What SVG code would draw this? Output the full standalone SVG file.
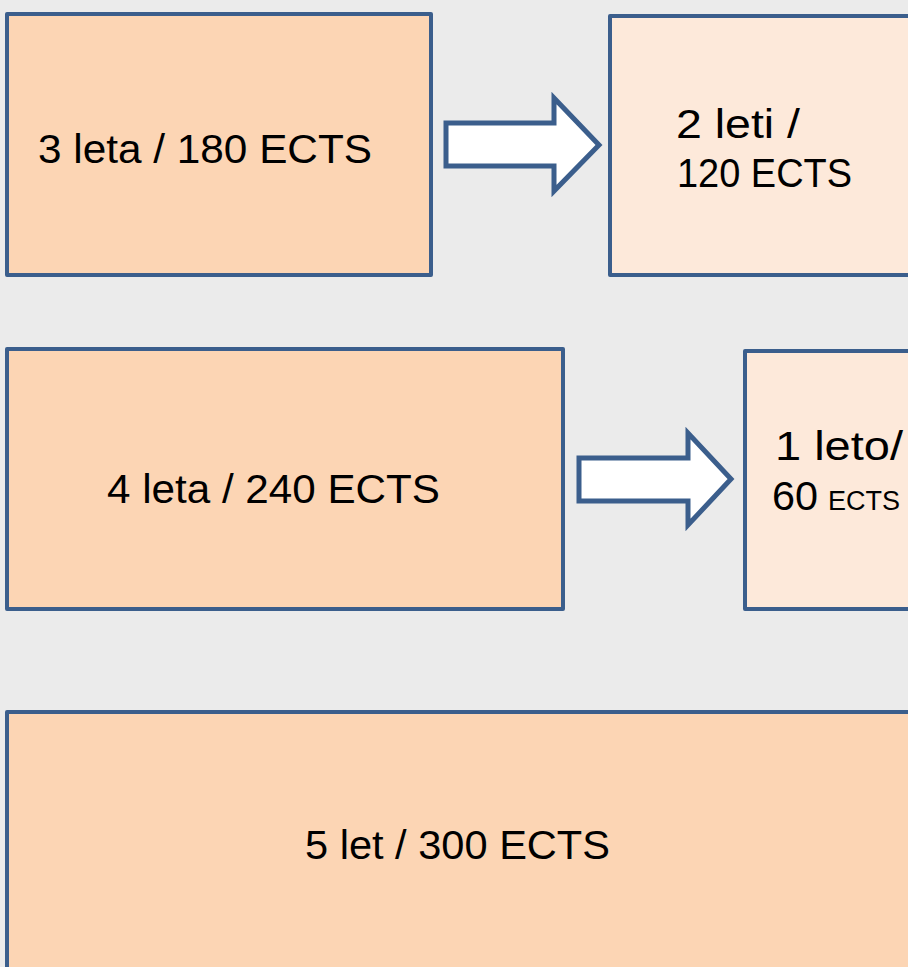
<svg xmlns="http://www.w3.org/2000/svg" width="908" height="967" viewBox="0 0 908 967">
<style>
.box{stroke:#3B5E8C;stroke-width:4;stroke-linejoin:round}
.dark{fill:#FCD5B4}
.light{fill:#FDE9DA}
.arrow{fill:#FFFFFF;stroke:#3B5E8C;stroke-width:5}
text{font-family:"Liberation Sans","DejaVu Sans",sans-serif;fill:#000;font-size:40px}
</style>
<rect width="908" height="967" fill="#EBEBEB"/>
<g id="node1"><rect class="box dark" x="7" y="14" width="424" height="261"/><text x="38" y="163" textLength="334" lengthAdjust="spacingAndGlyphs">3 leta / 180 ECTS</text></g>
<g id="node2"><rect class="box light" x="610" y="16" width="310" height="259"/><text x="676" y="138" textLength="124" lengthAdjust="spacingAndGlyphs">2 leti /</text><text x="677" y="187" textLength="175" lengthAdjust="spacingAndGlyphs">120 ECTS</text></g>
<g id="node3"><rect class="box dark" x="7" y="349" width="556" height="260"/><text x="107" y="503" textLength="333" lengthAdjust="spacingAndGlyphs">4 leta / 240 ECTS</text></g>
<g id="node4"><rect class="box light" x="745" y="351" width="175" height="258"/><text x="775" y="460" textLength="128" lengthAdjust="spacingAndGlyphs">1 leto/</text><text x="772" y="510"><tspan textLength="46" lengthAdjust="spacingAndGlyphs">60</tspan><tspan font-size="27" dx="10" textLength="72" lengthAdjust="spacingAndGlyphs">ECTS</tspan></text></g>
<g id="node5"><rect class="box dark" x="7" y="712" width="913" height="270"/><text x="305" y="859" textLength="305" lengthAdjust="spacingAndGlyphs">5 let / 300 ECTS</text></g>
<g id="connectors">
<path class="arrow" d="M446 123 H554 V98 L599 145 L554 191 V166 H446 Z"/>
<path class="arrow" d="M579 458 H688 V433 L731 479 L688 525 V501 H579 Z"/>
</g>
</svg>
